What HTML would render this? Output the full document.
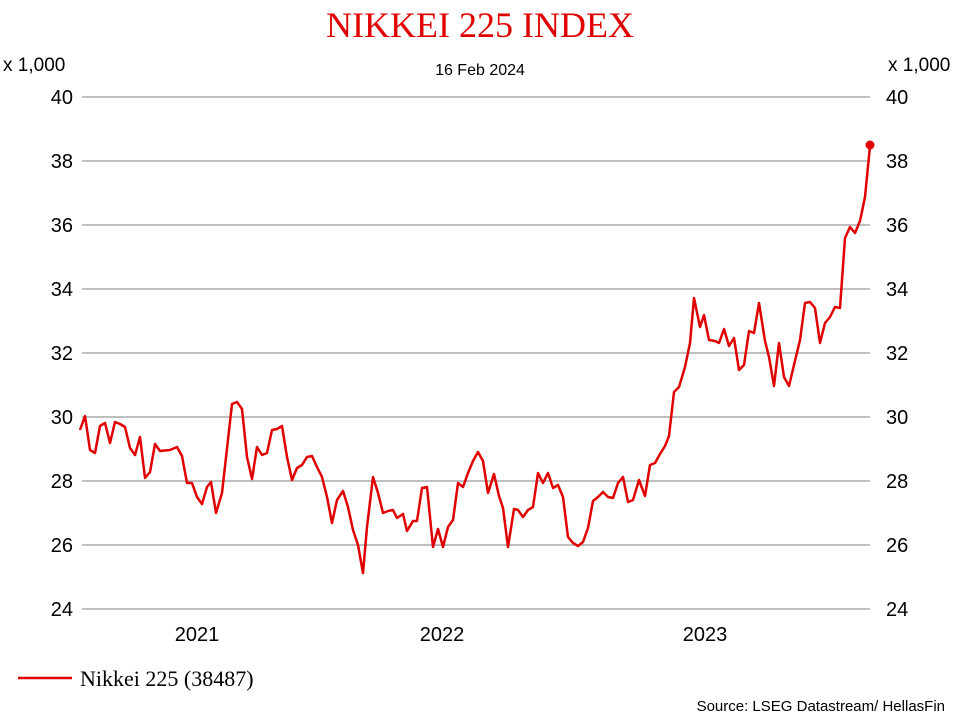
<!DOCTYPE html>
<html><head><meta charset="utf-8"><style>
body{margin:0;background:#fff;width:960px;height:720px;overflow:hidden}
</style></head><body>
<svg width="960" height="720" xmlns="http://www.w3.org/2000/svg">
<rect width="960" height="720" fill="#fff"/>
<text x="480" y="37" text-anchor="middle" font-family="Liberation Serif, serif" font-size="36" fill="#e00000">NIKKEI 225 INDEX</text>
<text x="480" y="75" text-anchor="middle" font-family="Liberation Sans, sans-serif" font-size="16" fill="#000">16 Feb 2024</text>
<g font-family="Liberation Sans, sans-serif" font-size="19" fill="#000">
<text x="3" y="71">x 1,000</text>
<text x="888" y="71">x 1,000</text>
</g>
<g stroke="#999" stroke-width="1.2">
<line x1="82" y1="97" x2="870" y2="97"/><line x1="82" y1="161" x2="870" y2="161"/>
<line x1="82" y1="225" x2="870" y2="225"/><line x1="82" y1="289" x2="870" y2="289"/>
<line x1="82" y1="353" x2="870" y2="353"/><line x1="82" y1="417" x2="870" y2="417"/>
<line x1="82" y1="481" x2="870" y2="481"/><line x1="82" y1="545" x2="870" y2="545"/>
<line x1="82" y1="609" x2="870" y2="609"/>
</g>
<g font-family="Liberation Sans, sans-serif" font-size="20" fill="#000">
<g text-anchor="end">
<text x="73" y="104">40</text><text x="73" y="168">38</text><text x="73" y="232">36</text>
<text x="73" y="296">34</text><text x="73" y="360">32</text><text x="73" y="424">30</text>
<text x="73" y="488">28</text><text x="73" y="552">26</text><text x="73" y="616">24</text>
</g>
<text x="886" y="104">40</text><text x="886" y="168">38</text><text x="886" y="232">36</text>
<text x="886" y="296">34</text><text x="886" y="360">32</text><text x="886" y="424">30</text>
<text x="886" y="488">28</text><text x="886" y="552">26</text><text x="886" y="616">24</text>
<g text-anchor="middle">
<text x="197" y="641">2021</text><text x="442" y="641">2022</text><text x="705" y="641">2023</text>
</g>
</g>
<polyline fill="none" stroke="#e00000" stroke-width="2.5" stroke-linejoin="round" points="80,430 85,416 90,450 95,453 100,426 105,423 110,443 115,422 120,424 125,427 130,448 135,455 140,437 145,478 150,472 155,444 160,451 170,450 177,447 182,456 187,483 192,483 197,497 202,504 207,487 211,482 216,513 222,493 232,404 237,402 242,409 247,457 252,479 257,447 262,455 267,453 272,430 277,429 282,426 287,457 292,480 297,468 302,465 307,457 312,456 317,467 322,477 327,497 332,523 337,500 343,491 348,507 353,530 358,545 363,573 367,527 373,477 378,493 383,513 388,511 393,510 397,518 403,514 407,531 413,521 417,521 422,488 427,487 433,547 438,529 443,547 448,527 453,520 458,483 463,487 468,473 473,461 478,452 483,461 488,493 494,474 499,496 503,508 508,547 514,509 518,510 523,517 528,510 533,507 538,473 543,483 548,473 553,488 558,485 563,497 568,537 573,543 578,546 583,542 588,528 593,501 598,497 603,492 608,497 613,498 618,483 623,477 628,502 633,500 639,480 645,496 650,465 655,463 660,454 665,446 669,436 674,392 679,387 685,367 690,343 694,298 700,327 704,315 709,340 715,341 719,343 724,329 729,346 734,338 739,370 744,365 749,331 754,333 759,303 765,341 769,357 774,386 779,343 784,377 789,386 794,365 800,340 805,303 810,302 815,308 820,343 825,323 830,317 835,307 840,308 845,238 850,227 855,233 860,221 865,197 870,146"/>
<circle cx="870" cy="145" r="4.5" fill="#e00000"/>
<line x1="18" y1="678" x2="72" y2="678" stroke="#e00000" stroke-width="2.5"/>
<text x="80" y="686" font-family="Liberation Serif, serif" font-size="22" fill="#000">Nikkei 225 (38487)</text>
<text x="945" y="711" text-anchor="end" font-family="Liberation Sans, sans-serif" font-size="15" fill="#000">Source: LSEG Datastream/ HellasFin</text>
</svg>
</body></html>
